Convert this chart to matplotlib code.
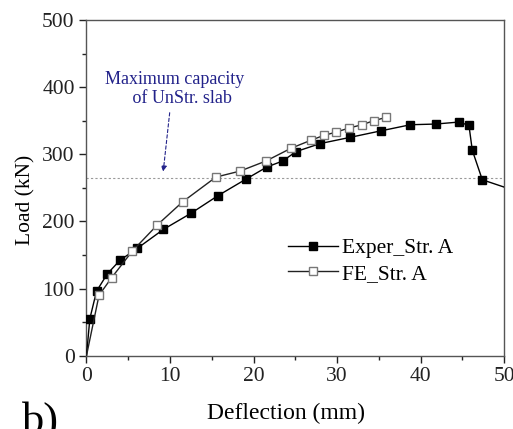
import matplotlib
matplotlib.use("Agg")
from matplotlib import pyplot as plt
from matplotlib.ticker import MultipleLocator

plt.rcParams['font.family'] = ['Liberation Serif', 'DejaVu Serif']

# load-deflection data
exp_defl = [0, 0.4, 1.2, 2.5, 4.0, 6.1, 9.2, 12.5, 15.7, 19.1, 21.6, 23.5, 25.1,
            28.0, 31.5, 35.3, 38.8, 41.8, 44.6, 45.8, 46.2, 47.4, 51.0]
exp_load = [0, 55, 96, 122, 142, 160, 188, 212, 238, 263, 281, 290, 304,
            316, 325, 335, 344, 345, 348, 343, 306, 262, 247]
fe_defl = [0, 1.5, 3.0, 5.5, 8.5, 11.5, 15.5, 18.4, 21.5, 24.5, 26.9, 28.4,
           29.9, 31.4, 33.0, 34.4, 35.9]
fe_load = [0, 90, 116, 156, 195, 229, 266, 275, 290, 309, 321, 328,
           333, 339, 344, 350, 355]
unstr_capacity = 265

navy = '#22228a'

fig = plt.figure(figsize=(5.13, 4.29), dpi=100)
ax = fig.add_axes([0.1686, 0.1709, 0.8139, 0.7825])

ax.axhline(unstr_capacity, color='#9a9a9a', lw=0.8, ls=(0, (2, 2)), zorder=1)

ax.plot(exp_defl, exp_load, color='black', lw=1.0, marker='s', ms=5.5,
        mfc='black', mec='black', markevery=slice(1, len(exp_defl) - 1),
        label='Exper_Str. A', zorder=3)
ax.plot(fe_defl, fe_load, color='#222222', lw=1.0, marker='s', ms=5.5,
        mfc='white', mec='#777777', markevery=slice(1, None),
        label='FE_Str. A', zorder=4)

ax.annotate('', xy=(9.15, 270), xytext=(10.0, 366),
            arrowprops=dict(arrowstyle='-|>', color=navy, lw=0.8,
                            ls=(0, (3, 2)), mutation_scale=8))
ax.text(10.6, 397, 'Maximum capacity\n   of UnStr. slab', color=navy,
        fontsize=13, ha='center', va='center', linespacing=1.15)

ax.set_xlim(0, 50)
ax.set_ylim(0, 500)
ax.xaxis.set_major_locator(MultipleLocator(10))
ax.xaxis.set_minor_locator(MultipleLocator(5))
ax.yaxis.set_major_locator(MultipleLocator(100))
ax.yaxis.set_minor_locator(MultipleLocator(50))
ax.tick_params(which='both', direction='out', labelsize=15.5, colors='#222222',
               top=False, right=False)
ax.tick_params(which='major', length=5, width=1)
ax.tick_params(which='minor', length=3, width=1)
for s in ax.spines.values():
    s.set_color('#555555')
    s.set_linewidth(1.0)

ax.set_xlabel('Deflection (mm)', fontsize=17)
ax.xaxis.set_label_coords(0.478, -0.142)
ax.set_ylabel('Load (kN)', fontsize=15.5)
ax.yaxis.set_label_coords(-0.123, 0.465)

ax.legend(loc='upper left', bbox_to_anchor=(0.483, 0.35), frameon=False,
          fontsize=15.5, handlelength=2.3, borderpad=0, borderaxespad=0,
          handletextpad=0.2, labelspacing=0.25)

fig.text(0.042, -0.009, 'b)', fontsize=32, va='baseline', ha='left')

fig.savefig('out.png', dpi=100)
